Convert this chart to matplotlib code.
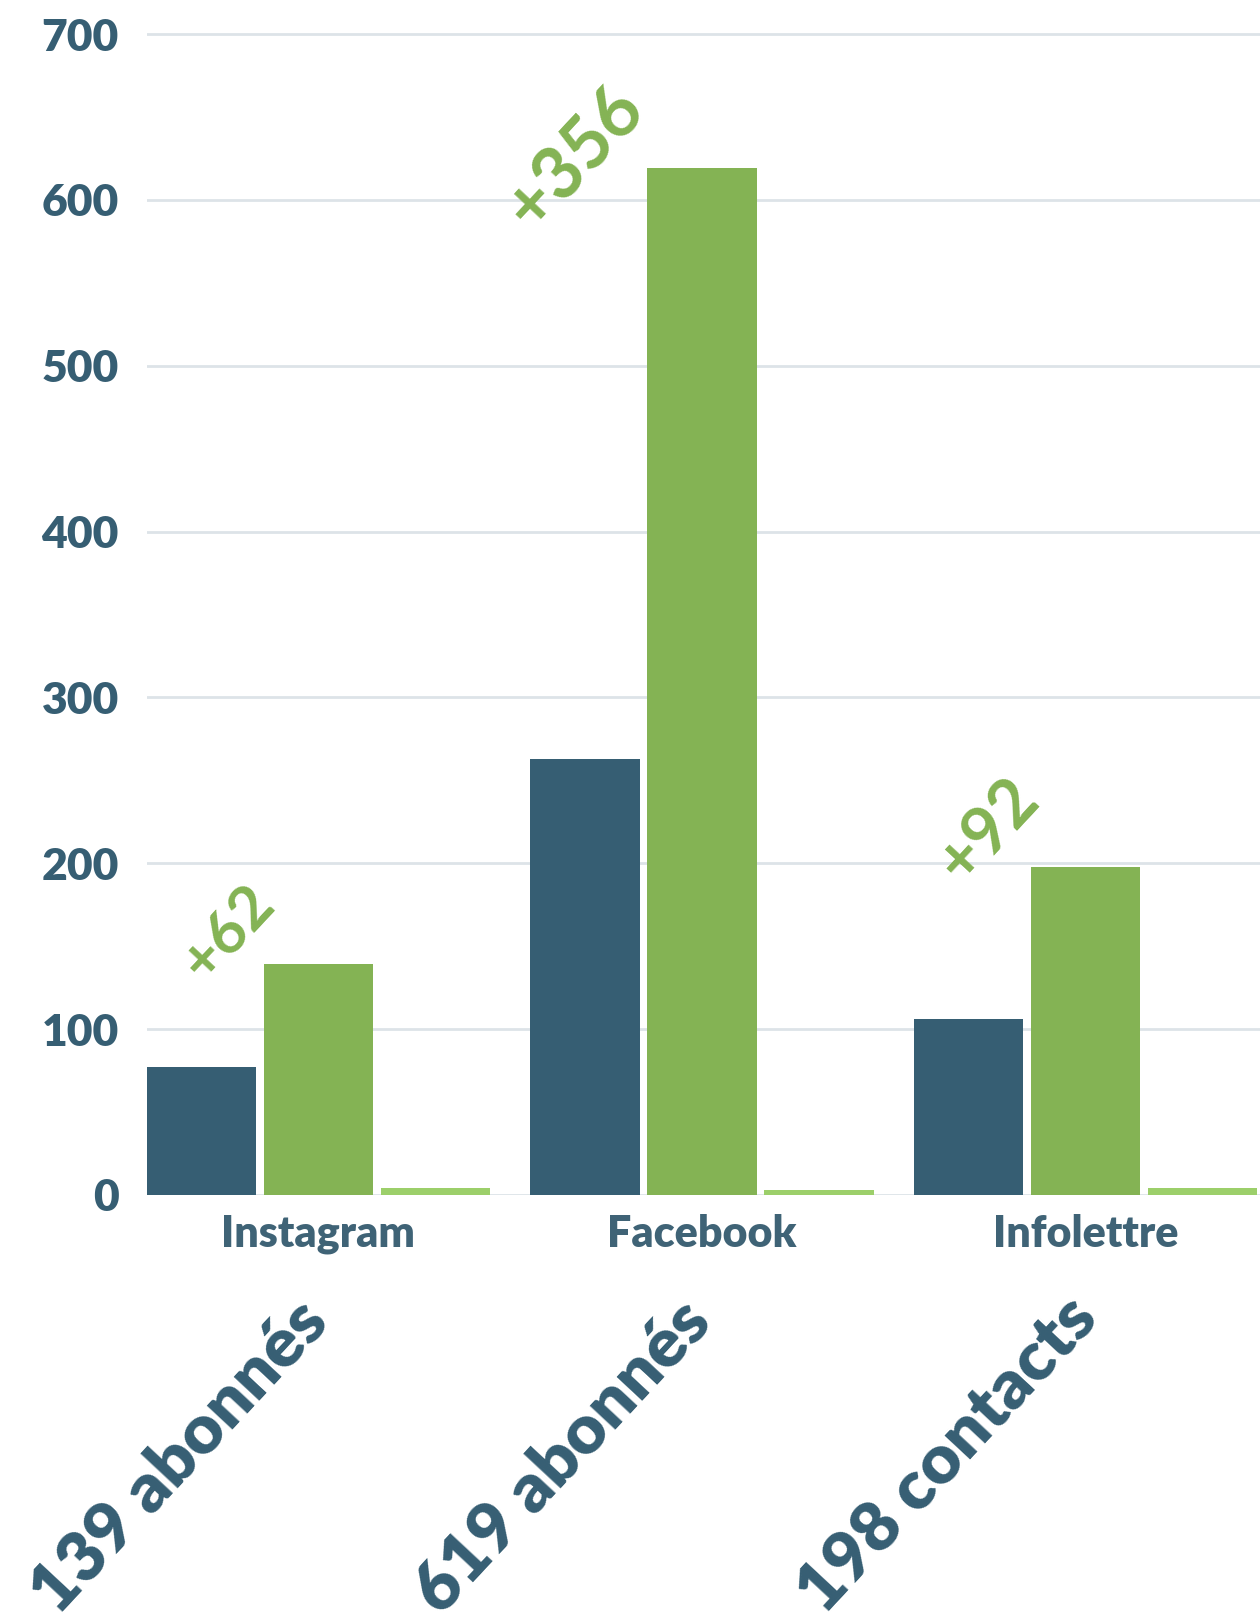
import matplotlib.pyplot as plt
import numpy as np

categories = ['Instagram', 'Facebook', 'Infolettre']
before = [77, 263, 106]
after = [139, 619, 198]
other = [4, 3, 4]
gains = ['+62', '+356', '+92']
totals = ['139 abonnés', '619 abonnés', '198 contacts']
yticks = [0, 100, 200, 300, 400, 500, 600, 700]

dark = '#365e73'
green = '#84b354'
light = '#9ccf6a'
grid = '#dde3e8'

plt.rcParams['font.family'] = ['Lato', 'DejaVu Sans']

fig = plt.figure(figsize=(12.6, 16.19), dpi=100)
ax = fig.add_axes([0.1164, 0.2619, 0.8836, 0.7191])

x = np.arange(len(categories))
w = 0.285
step = 0.305
ax.bar(x - step, before, w, color=dark, zorder=3)
ax.bar(x, after, w, color=green, zorder=3)
ax.bar(x + step, other, w, color=light, zorder=3)

ax.set_xlim(-0.4475, 2.455)
ax.set_ylim(0, 702)
ax.set_yticks(yticks)
ax.set_yticklabels([str(t) for t in yticks], fontsize=32, fontweight='heavy', color=dark)
ax.set_xticks(x)
ax.set_xticklabels(categories, fontsize=31, fontweight='heavy', color='#3f6376')
ax.tick_params(axis='both', length=0)
ax.tick_params(axis='y', pad=20)
ax.tick_params(axis='x', pad=14)
ax.grid(axis='y', color=grid, linewidth=2, zorder=0)
for s in ax.spines.values():
    s.set_visible(False)

# gain labels, placed up and left of the green bars
gain_dx = [-0.236, -0.33, -0.253]
gain_dy = [19, 6, 22]
gain_size = [44, 52, 48]
for i in range(len(categories)):
    ax.text(x[i] + gain_dx[i], after[i] + gain_dy[i], gains[i], rotation=47,
            ha='center', va='center', fontsize=gain_size[i], fontweight='bold',
            color=green, zorder=4)

# big totals under the axis
for i in range(len(categories)):
    ax.text(x[i] - 0.68, -0.362, totals[i], rotation=47, rotation_mode='anchor',
            ha='left', va='baseline', fontsize=50, fontweight='heavy', color=dark,
            transform=ax.get_xaxis_transform())

fig.savefig('out.png', dpi=100)
